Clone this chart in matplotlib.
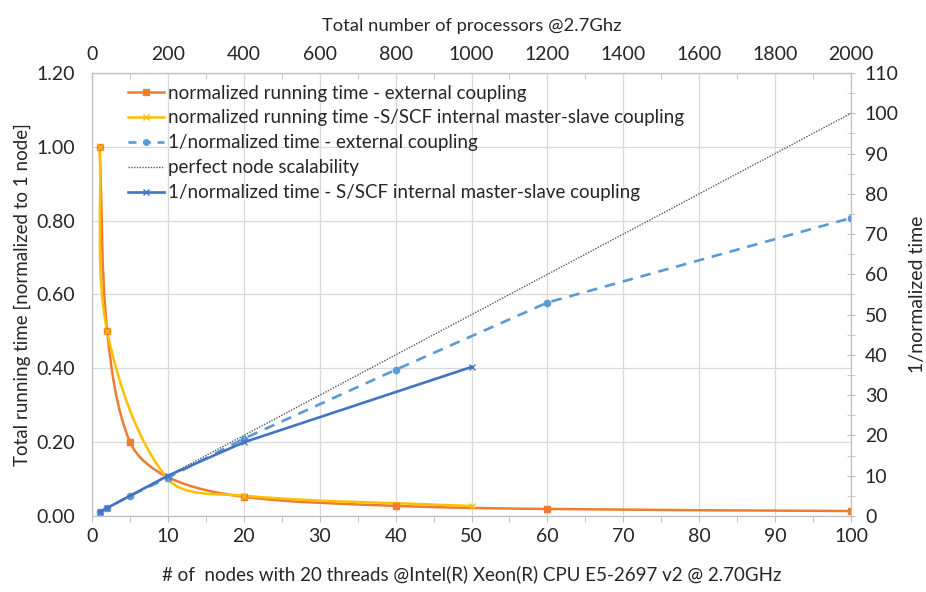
import matplotlib
matplotlib.use("Agg")
from matplotlib import pyplot as plt
from matplotlib.path import Path
from matplotlib.patches import PathPatch
from matplotlib.lines import Line2D
from matplotlib.ticker import MultipleLocator, FormatStrFormatter

plt.rcParams['font.family'] = ['Lato', 'DejaVu Sans']

# nodes (bottom axis) and values
nodes_ext = [1, 2, 5, 10, 20, 40, 60, 100]
time_ext = [1.00, 0.50, 0.20, 0.105, 0.052, 0.0275, 0.019, 0.0135]

nodes_int = [1, 2, 10, 20, 50]
time_int = [1.00, 0.50, 0.10, 0.055, 0.027]

speedup_ext = [1, 2, 5, 9.5, 19.2, 36.3, 53.0, 74.0]
speedup_int = [1, 2, 10, 18.3, 37.0]

nodes_perfect = [1, 100]
speedup_perfect = [1, 100]

# top axis: total processors (20 per node)
proc_ticks = list(range(0, 2001, 200))
proc_minor = list(range(0, 2001, 100))

labels = [
    "normalized running time - external coupling",
    "normalized running time -S/SCF internal master-slave coupling",
    "1/normalized time - external coupling",
    "perfect node scalability",
    "1/normalized time - S/SCF internal master-slave coupling",
]

c_orange = "#ED7D31"
c_yellow = "#FFC000"
c_lblue = "#5B9BD5"
c_blue = "#4472C4"
c_grid = "#D9D9D9"
c_text = "#262626"


def smooth_path(ax, xs, ys):
    # Excel-like smoothed line: cubic bezier, tangents weighted by
    # segment length on screen so the curve does not overshoot
    pts = [tuple(p) for p in ax.transData.transform(list(zip(xs, ys)))]
    n = len(pts)

    def dist(a, b):
        return ((a[0] - b[0]) ** 2 + (a[1] - b[1]) ** 2) ** 0.5

    verts = [pts[0]]
    codes = [Path.MOVETO]
    for i in range(n - 1):
        p0 = pts[i - 1] if i > 0 else pts[i]
        p1 = pts[i]
        p2 = pts[i + 1]
        p3 = pts[i + 2] if i + 2 < n else pts[i + 1]
        d01, d12, d23 = dist(p0, p1), dist(p1, p2), dist(p2, p3)
        w1 = d12 / (d01 + d12) / 3 if d01 + d12 > 0 else 0
        w2 = d12 / (d12 + d23) / 3 if d12 + d23 > 0 else 0
        c1 = (p1[0] + (p2[0] - p0[0]) * w1, p1[1] + (p2[1] - p0[1]) * w1)
        c2 = (p2[0] - (p3[0] - p1[0]) * w2, p2[1] - (p3[1] - p1[1]) * w2)
        verts += [c1, c2, p2]
        codes += [Path.CURVE4] * 3
    inv = ax.transData.inverted()
    return Path(inv.transform(verts), codes)


fig = plt.figure(figsize=(9.26, 5.92), dpi=100)
ax = fig.add_axes([0.0994, 0.1284, 0.8196, 0.7483])
ax2 = ax.twinx()

ax.set_xlim(0, 100)
ax.set_ylim(0, 1.2)
ax2.set_ylim(0, 110)

# left axis: running time
ax.add_patch(PathPatch(smooth_path(ax, nodes_ext, time_ext), fill=False,
                       edgecolor=c_orange, lw=1.8, zorder=3))
ax.plot(nodes_ext, time_ext, ls="none", marker="s", ms=5, color=c_orange, zorder=4)
ax.add_patch(PathPatch(smooth_path(ax, nodes_int, time_int), fill=False,
                       edgecolor=c_yellow, lw=1.8, zorder=3))
ax.plot(nodes_int, time_int, ls="none", marker="x", ms=4, mew=1, color=c_yellow, zorder=4)

# right axis: speedup
ax2.plot(nodes_perfect, speedup_perfect, ls=(0, (1, 1)), lw=1.0, color="#595959")
ax2.plot(nodes_ext, speedup_ext, ls=(0, (4, 3)), lw=1.9, color=c_lblue,
         marker="o", ms=4.5)
ax2.plot(nodes_int, speedup_int, ls="-", lw=1.9, color=c_blue,
         marker="x", ms=4, mew=1)

ax.xaxis.set_major_locator(MultipleLocator(10))
ax.xaxis.set_minor_locator(MultipleLocator(5))
ax.yaxis.set_major_locator(MultipleLocator(0.2))
ax.yaxis.set_major_formatter(FormatStrFormatter("%.2f"))
ax2.yaxis.set_major_locator(MultipleLocator(10))
ax2.yaxis.set_minor_locator(MultipleLocator(5))

ax.grid(True, which="major", color=c_grid, lw=0.9)
ax.set_axisbelow(True)

for a in (ax, ax2):
    for s in a.spines.values():
        s.set_color("#BFBFBF")
ax.tick_params(axis="x", which="both", direction="out", length=4, color="#BFBFBF",
               labelsize=14, labelcolor=c_text, pad=5)
ax.tick_params(axis="y", length=0, labelsize=14, labelcolor=c_text, pad=12)
ax2.tick_params(axis="y", which="both", direction="inout", length=6, color="#BFBFBF",
                labelsize=14, labelcolor=c_text, pad=7)

top = ax.secondary_xaxis("top", functions=(lambda x: x * 20, lambda x: x / 20))
top.set_xticks(proc_ticks)
top.set_xticks(proc_minor, minor=True)
top.tick_params(which="both", direction="in", length=4, color="#BFBFBF",
                labelsize=14, labelcolor=c_text, pad=7)
top.spines["top"].set_color("#BFBFBF")
top.set_xlabel("Total number of processors @2.7Ghz", fontsize=13.2, color=c_text, labelpad=11)

ax.set_xlabel("# of  nodes with 20 threads @Intel(R) Xeon(R) CPU E5-2697 v2 @ 2.70GHz",
              fontsize=13.5, color=c_text, labelpad=14)
ax.set_ylabel("Total running time [normalized to 1 node]", fontsize=13.5, color=c_text, labelpad=4)
ax2.set_ylabel("1/normalized time", fontsize=14, color=c_text, labelpad=7)

handles = [
    Line2D([], [], color=c_orange, lw=1.8, marker="s", ms=4),
    Line2D([], [], color=c_yellow, lw=1.8, marker="x", ms=4),
    Line2D([], [], color=c_lblue, lw=1.9, ls=(0, (3, 2.5)), marker="o", ms=4),
    Line2D([], [], color="#595959", lw=1.0, ls=(0, (1, 1))),
    Line2D([], [], color=c_blue, lw=1.9, marker="x", ms=4),
]
leg = ax2.legend(handles, labels, loc="upper left", bbox_to_anchor=(0.035, 0.995),
                 frameon=False, fontsize=13.5, handlelength=1.9, handletextpad=0.25,
                 labelspacing=0.42, borderaxespad=0.2, borderpad=0.3)
for t in leg.get_texts():
    t.set_color(c_text)

fig.savefig("out.png", dpi=100)
